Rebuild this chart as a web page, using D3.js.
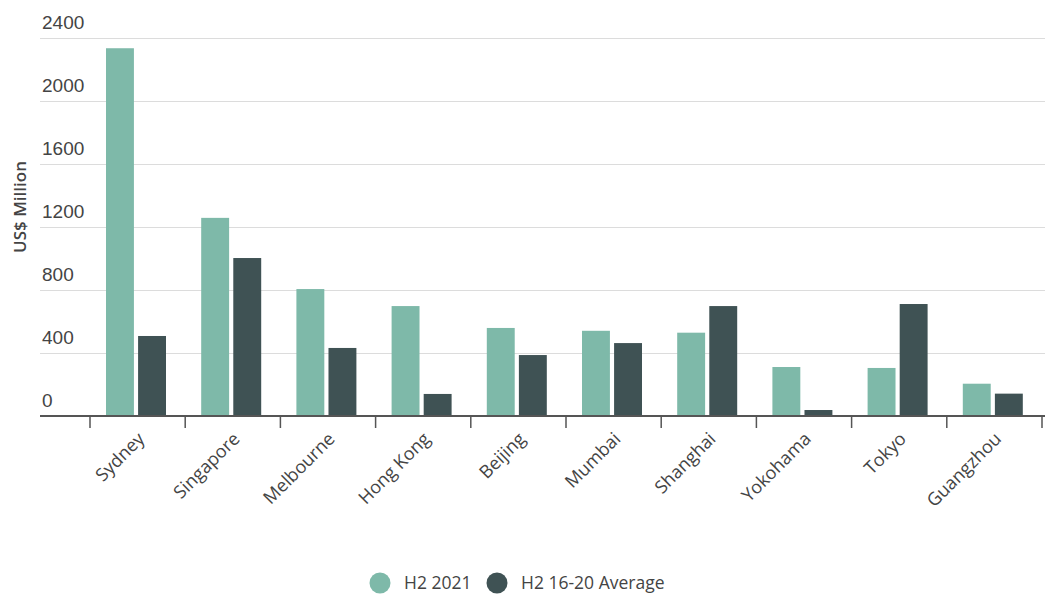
<!DOCTYPE html>
<html>
<head>
<meta charset="utf-8">
<script src="https://cdn.jsdelivr.net/npm/d3@7"></script>
<style>
  html, body { margin: 0; padding: 0; background: #fff; }
  svg { display: block; font-family: 'Open Sans', 'Noto Sans', sans-serif; }
</style>
</head>
<body>
<div id="chart-container"></div>
<script>
const cities = ['Sydney', 'Singapore', 'Melbourne', 'Hong Kong', 'Beijing', 'Mumbai', 'Shanghai', 'Yokohama', 'Tokyo', 'Guangzhou'];
const seriesNames = ['H2 2021', 'H2 16-20 Average'];
const h2021 = [2335, 1258, 806, 698, 559, 541, 529, 311, 305, 205];
const avg1620 = [508, 1003, 432, 140, 387, 463, 698, 38, 711, 142];
const yTicks = [0, 400, 800, 1200, 1600, 2000, 2400];

displayBarChart();

function displayBarChart() {
  const width = 1045;
  const height = 597;
  const plot = { left: 90, right: 1042, top: 38, bottom: 416 };
  const colors = ['#7eb9a9', '#3f5254'];
  const textColor = '#444';

  const svg = d3.select('#chart-container').append('svg')
      .attr('width', width)
      .attr('height', height);

  const x = d3.scaleBand(cities, [plot.left, plot.right]);
  const xInner = d3.scaleBand(seriesNames, [16, 76]).paddingInner(0.13);
  const y = d3.scaleLinear([0, 2400], [plot.bottom, plot.top]);

  // gridlines + labels sitting above them
  const yAxis = d3.axisRight(y).tickValues(yTicks).tickSize(width - 40).tickFormat(d => d);
  svg.append('g')
      .attr('transform', 'translate(40, 0)')
      .call(yAxis)
      .call(g => g.select('.domain').remove())
      .call(g => g.selectAll('.tick line').attr('stroke', '#dcdcdc').attr('stroke-width', 1.2))
      .call(g => g.selectAll('.tick text')
          .attr('x', 2)
          .attr('dy', -10)
          .attr('text-anchor', 'start')
          .attr('fill', textColor)
          .attr('font-size', 19));

  // bars
  const rows = cities.map((c, i) => ({ city: c, values: [h2021[i], avg1620[i]] }));
  svg.append('g').selectAll('g')
    .data(rows)
    .join('g')
      .attr('transform', d => `translate(${x(d.city)}, 0)`)
    .selectAll('rect')
    .data(d => d.values.map((v, i) => ({ key: seriesNames[i], value: v, i })))
    .join('rect')
      .attr('x', d => xInner(d.key))
      .attr('y', d => y(d.value))
      .attr('width', xInner.bandwidth())
      .attr('height', d => y(0) - y(d.value))
      .attr('fill', d => colors[d.i]);

  // baseline and boundary ticks
  svg.append('line')
      .attr('x1', 40).attr('x2', width)
      .attr('y1', y(0)).attr('y2', y(0))
      .attr('stroke', '#555').attr('stroke-width', 2);

  const boundaries = cities.map(c => x(c)).concat([plot.right]);
  svg.append('g').selectAll('line')
    .data(boundaries)
    .join('line')
      .attr('x1', d => d).attr('x2', d => d)
      .attr('y1', y(0)).attr('y2', y(0) + 12)
      .attr('stroke', '#555').attr('stroke-width', 1.5);

  // category labels
  svg.append('g').selectAll('text')
    .data(cities)
    .join('text')
      .attr('transform', d => `translate(${x(d) + x.bandwidth() / 2 + 8}, 440) rotate(-45)`)
      .attr('text-anchor', 'end')
      .attr('fill', textColor)
      .attr('font-size', 18)
      .text(d => d);

  // y title
  svg.append('text')
      .attr('transform', 'translate(26, 207) rotate(-90)')
      .attr('text-anchor', 'middle')
      .attr('fill', textColor)
      .attr('font-size', 17)
      .attr('font-weight', 600)
      .text('US$ Million');

  // legend
  const legendPos = [380, 497];
  const legend = svg.append('g').selectAll('g')
    .data(seriesNames)
    .join('g')
      .attr('transform', (d, i) => `translate(${legendPos[i]}, 583)`);
  legend.append('circle')
      .attr('r', 10.5)
      .attr('fill', (d, i) => colors[i]);
  legend.append('text')
      .attr('x', 24)
      .attr('dy', '0.35em')
      .attr('fill', textColor)
      .attr('font-size', 17.5)
      .text(d => d);
}
</script>
</body>
</html>
